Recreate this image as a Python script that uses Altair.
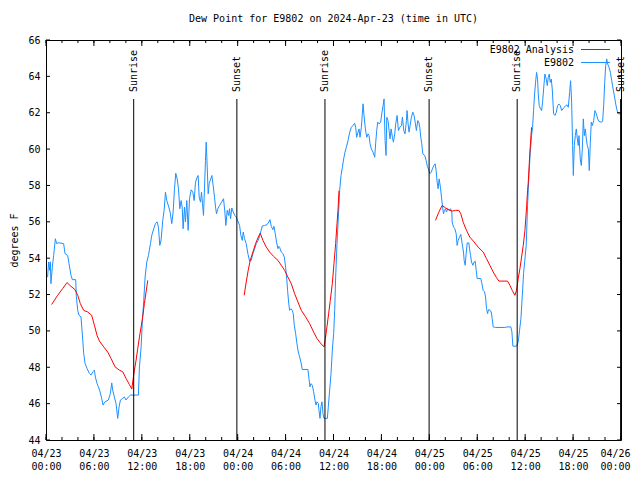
import altair as alt
import pandas as pd

FONT = "DejaVu Sans Mono"
TITLE = "Dew Point for E9802 on 2024-Apr-23 (time in UTC)"
START = pd.Timestamp("2024-04-23T00:00:00Z")

# E9802 observations: hours after 2024-04-23 00:00 UTC, dew point (F)
blue_hours = [
    0.20, 0.33, 0.46, 0.54, 0.62, 0.79, 0.96, 1.17, 1.33, 1.54, 2.21, 2.38, 2.71, 2.88, 3.13, 3.30,
    3.72, 3.80, 3.97, 4.13, 4.38, 4.51, 4.72, 4.89, 5.14, 5.43, 5.64, 5.85, 6.06, 6.18, 6.39, 6.56,
    6.77, 6.97, 7.14, 7.39, 7.81, 8.06, 8.23, 8.35, 8.56, 8.77, 8.98, 9.15, 9.32, 9.61, 9.81, 10.02,
    10.32, 10.57, 10.99, 11.57, 11.70, 11.91, 12.07, 12.24, 12.41, 12.62, 12.83, 13.08, 13.24, 13.49,
    13.70, 13.91, 14.08, 14.25, 14.41,
    14.62, 14.79, 14.96, 15.12, 15.38, 15.54, 15.75, 15.92, 16.09, 16.25, 16.42, 16.59, 16.75, 16.92,
    17.05, 17.17, 17.34, 17.46, 17.63, 17.80, 17.97, 18.18, 18.38, 18.55, 18.72, 18.93, 19.05, 19.18,
    19.35, 19.47, 19.60, 19.72, 19.85, 19.97, 20.06, 20.14, 20.31, 20.43, 20.56, 20.77, 20.93, 21.10,
    21.23, 21.35, 21.52, 21.73, 21.98, 22.23, 22.40, 22.52, 22.69, 22.86, 22.98, 23.11, 23.27, 23.44,
    23.65, 23.82, 24.03, 24.24, 24.40, 24.57, 24.70, 24.86, 25.07, 25.28, 25.49, 25.70, 25.91, 26.12,
    26.33, 26.58, 26.83, 27.08, 27.37, 27.66, 27.91, 28.04, 28.21, 28.41, 28.54, 28.71, 28.87, 29.04,
    29.17,
    29.25, 29.46, 29.67, 29.84, 30.00, 30.13, 30.25, 30.38, 30.50, 30.67, 30.84, 30.96, 31.09, 31.26,
    31.42, 31.59, 31.76, 31.92, 32.09, 32.80, 32.93, 33.05, 33.18, 33.35, 33.51, 33.68, 33.81, 33.93,
    34.10, 34.18, 34.31, 34.43, 34.56, 34.68, 34.81, 35.23, 35.35, 35.52, 35.69, 35.85, 36.02, 36.15,
    36.27,
    36.44, 36.61, 36.77, 36.94, 37.11, 37.27, 37.44, 37.61, 37.82, 38.03, 38.24, 38.44, 38.65, 38.78,
    38.90, 39.07, 39.20, 39.32, 39.49, 39.61, 39.70, 39.82, 39.99, 40.16, 40.33, 40.45, 40.58, 40.74,
    40.95, 41.16, 41.29, 41.41, 41.54, 41.70, 41.91, 42.04, 42.21, 42.33, 42.46, 42.58, 42.67, 42.83,
    42.96, 43.08, 43.21, 43.38, 43.50, 43.67, 43.79, 43.96, 44.13, 44.30, 44.51, 44.63, 44.80, 44.96,
    45.13, 45.21, 45.34, 45.46, 45.59, 45.76, 45.93, 46.09, 46.26, 46.38, 46.55, 46.68, 46.80, 46.93,
    47.05, 47.18, 47.43, 47.60, 47.76, 47.89, 48.06, 48.22, 48.39, 48.56, 48.73, 48.85, 48.98, 49.10,
    49.23, 49.39, 49.52, 49.64, 49.77, 49.90, 50.02, 50.15, 50.31, 50.48, 50.65, 50.82,
    50.86, 51.03, 51.19, 51.36, 51.48, 51.61, 51.78, 51.94, 52.11, 52.28, 52.36, 52.49, 52.61, 52.74,
    52.95, 53.03, 53.16, 53.28, 53.45, 53.61, 53.74, 53.87, 53.99, 54.45, 54.58, 54.74, 54.91, 55.04,
    55.16, 55.29, 55.41, 55.62, 55.75, 55.87, 56.00, 56.29, 57.46, 57.71, 58.21, 58.34, 58.46, 58.92,
    59.13, 59.30, 59.47, 59.63, 59.80,
    60.13, 60.30, 60.47, 60.64, 60.80, 60.93, 61.05, 61.18, 61.30, 61.43, 61.55, 61.64, 61.76, 61.93,
    62.06, 62.18, 62.31, 62.47, 62.64, 62.77, 62.89, 63.02, 63.14, 63.27, 63.39, 63.56, 63.73, 63.90,
    64.06, 64.23, 64.40, 64.57, 64.73, 64.90, 65.07, 65.23, 65.40, 65.57, 65.69, 65.82, 65.94, 66.03,
    66.15, 66.28, 66.40, 66.53, 66.65, 66.74, 66.90, 67.03, 67.16, 67.28, 67.41, 67.53, 67.66, 67.78,
    67.91, 68.03, 68.16, 68.28, 68.41, 68.58, 68.74, 68.91, 69.08, 69.25, 69.50, 69.70, 69.83, 69.96,
    70.08, 70.21, 70.33, 70.50, 70.67, 70.84, 71.01, 71.17, 71.34, 71.51, 71.67, 71.88,
]
blue_dewpt = [
    52.96, 53.79, 53.33, 53.80, 52.60, 53.50, 54.15, 55.07, 54.80, 54.85, 54.80, 54.25, 54.15, 53.70, 53.06, 52.82,
    52.82, 51.87, 51.13, 50.86, 50.77, 50.04, 48.76, 48.21, 47.93, 47.66, 47.57, 47.75, 47.84, 47.47, 47.11, 46.93,
    46.65, 46.29, 45.92, 46.10, 46.20, 46.56, 47.14, 46.75, 46.37, 46.00, 45.19, 45.82, 46.20, 46.29, 46.37, 46.20,
    46.37, 46.47, 46.47, 46.47, 48.02, 49.12, 50.59, 51.68, 52.96, 53.79, 54.15, 54.80, 55.25, 55.62,
    55.90, 56.00, 55.70, 54.70, 55.00,
    56.08, 56.63, 57.63, 57.17, 56.81, 56.54, 55.90, 56.54, 57.82, 58.67, 58.37, 57.82, 56.72, 57.17,
    56.81, 55.62, 56.81, 56.00, 57.17, 55.53, 57.27, 57.76, 57.63, 57.17, 58.18, 58.45, 58.55, 57.36,
    57.08, 57.63, 57.00, 56.35, 57.91, 59.37, 60.38, 59.55, 57.54, 58.09, 58.27, 58.55, 58.00, 57.36,
    56.81, 56.44, 56.72, 56.90, 57.08, 57.27, 56.54, 55.80, 56.63, 56.35, 56.72, 56.17, 56.76, 56.54,
    56.35, 56.26, 56.04, 55.80, 55.25, 54.98, 55.44, 55.07, 54.80, 54.25, 53.84, 53.88, 54.25, 54.52,
    54.80, 54.98, 55.35, 55.77, 55.80, 55.84, 55.99, 56.12, 55.75, 55.57, 55.75, 55.35, 54.89, 54.52,
    54.65,
    54.60, 54.34, 54.25, 54.06, 53.51, 52.96, 52.23, 51.59, 51.13, 51.22, 51.13, 50.95, 50.31, 49.85,
    49.30, 48.84, 48.57, 48.29, 47.88, 47.88, 47.38, 46.92, 47.10, 47.01, 46.65, 46.19, 45.92, 46.10,
    46.01, 45.64, 45.19, 45.83, 46.10, 45.46, 45.19, 45.19, 45.83, 46.74, 47.66, 48.94, 49.85, 51.13,
    52.96,
    54.80, 56.26, 57.72, 58.55, 59.00, 59.46, 59.83, 60.10, 60.47, 60.93, 61.20, 61.29, 61.42, 61.20,
    60.65, 60.93, 61.11, 60.65, 61.20, 61.94, 62.49, 61.85, 61.11, 60.65, 60.84, 60.75, 60.29, 60.01,
    59.83, 59.55, 60.38, 61.02, 61.48, 61.39, 61.48, 61.94, 62.39, 62.76, 60.47, 59.65, 61.75, 61.57,
    61.02, 60.56, 61.11, 60.65, 60.38, 60.84, 61.39, 61.85, 61.02, 61.20, 61.29, 61.76, 61.02, 60.84,
    61.57, 62.12, 61.39, 60.93, 61.29, 61.76, 62.03, 61.85, 61.39, 61.02, 61.57, 61.48, 61.20, 60.65,
    60.29, 59.74, 59.65, 59.37, 59.04, 58.91, 58.64, 58.72, 58.91, 59.10, 59.19, 58.82, 58.18, 57.82,
    58.36, 57.90, 57.36, 56.90, 56.44, 56.63, 56.72, 56.54, 56.72, 56.63, 56.72, 56.54,
    55.99, 55.71, 55.62, 55.35, 54.70, 54.98, 55.16, 55.31, 54.80, 54.34, 53.88, 53.61, 54.25, 54.84,
    54.84, 54.52, 54.16, 53.79, 53.61, 53.79, 53.84, 53.33, 52.88, 52.88, 52.60, 52.23, 52.15, 51.87,
    51.23, 50.95, 51.17, 51.13, 51.04, 50.68, 50.22, 50.19, 50.19, 50.22, 50.22, 49.95, 49.16, 49.16,
    49.40, 50.04, 50.68, 51.87, 53.15,
    54.70, 56.90, 58.55, 59.83, 60.74, 61.20, 62.12, 63.03, 63.67, 64.22, 63.85, 63.03, 62.39, 62.21,
    62.12, 62.58, 63.31, 64.13, 63.85, 63.49, 63.94, 64.13, 63.67, 63.85, 63.31, 61.94, 61.85, 62.03,
    62.39, 62.48, 62.39, 62.12, 62.21, 62.30, 62.39, 62.43, 62.30, 63.12, 63.76, 62.58, 60.20, 58.55,
    60.20, 60.74, 61.11, 60.56, 60.20, 60.74, 59.46, 59.10, 60.01, 61.66, 60.74, 61.11, 60.56, 60.20,
    60.01, 58.82, 60.38, 61.48, 61.30, 61.57, 62.12, 61.94, 61.66, 61.52, 61.48, 61.52, 62.39, 63.67,
    64.59, 64.96, 64.68, 64.50, 64.22, 63.76, 63.31, 62.94, 62.48, 62.12, 61.94, 61.94,
]

# E9802 Analysis: three separate pieces
red_hours_1 = [0.71, 1.46, 2.09, 2.63, 3.13, 3.63, 3.97, 4.30, 4.72, 5.22, 5.72, 6.06, 6.39, 6.68,
               7.23, 7.73, 8.15, 8.65, 9.19, 9.61, 10.03, 10.44, 10.74, 10.86, 11.07, 11.28, 11.49,
               11.70, 11.91, 12.11, 12.32, 12.53, 12.74]
red_dewpt_1 = [51.45, 51.96, 52.33, 52.66, 52.45, 52.27, 51.96, 51.50, 51.13, 51.04, 50.86, 50.31, 49.76, 49.45,
               49.12, 48.84, 48.48, 48.02, 47.84, 47.75, 47.38, 47.05, 46.80, 47.20, 47.84, 48.39, 49.03,
               49.67, 50.22, 50.77, 51.50, 52.14, 52.78]
red_hours_2 = [24.82, 25.07, 25.32, 25.57, 25.91, 26.24, 26.58, 26.83, 27.16, 27.58, 28.00, 28.50, 29.04,
               29.46, 29.88, 30.29, 30.71, 31.13, 31.55, 31.97, 32.51, 33.01, 33.51, 33.93, 34.35, 34.81,
               34.98, 35.18, 35.39, 35.60, 35.85, 36.06, 36.27, 36.44, 36.56, 36.69]
red_dewpt_2 = [51.96, 52.69, 53.33, 53.88, 54.34, 54.80, 55.16, 55.38, 54.98, 54.61, 54.34, 54.10, 53.88,
               53.61, 53.33, 52.96, 52.60, 52.05, 51.59, 51.13, 50.77, 50.40, 49.94, 49.58, 49.34, 49.12,
               49.58, 50.22, 50.95, 51.68, 52.60, 53.70, 54.80, 55.90, 56.63, 57.72]
red_hours_3 = [48.77, 49.19, 49.60, 50.02, 50.44, 50.86, 51.28, 51.69, 51.94, 52.24, 52.65, 53.07, 53.61,
               54.11, 54.74, 55.16, 55.58, 56.00, 56.41, 56.71, 57.79, 58.09, 58.38, 58.71, 58.92, 59.13,
               59.34, 59.55, 59.76, 59.97, 60.18, 60.30, 60.39, 60.59, 60.80]
red_dewpt_3 = [56.08, 56.53, 56.90, 56.77, 56.66, 56.59, 56.63, 56.63, 56.44, 55.98, 55.53, 55.16, 54.89,
               54.61, 54.34, 53.97, 53.61, 53.24, 52.93, 52.74, 52.74, 52.51, 52.23, 51.96, 52.23, 52.88,
               53.42, 54.06, 54.70, 55.53, 56.81, 57.72, 58.18, 59.83, 61.20]

sun_events = ["Sunrise", "Sunset", "Sunrise", "Sunset", "Sunrise", "Sunset"]
sun_hours = [10.98, 23.90, 34.93, 47.97, 59.00, 71.95]

series_names = ["E9802 Analysis", "E9802"]
series_colors = ["#ff0000", "#1e90ff"]

x_major_hours = list(range(0, 73, 6))
x_minor_hours = list(range(0, 73, 2))
y_ticks = list(range(44, 67, 2))


def to_iso(hours):
    return [(START + pd.Timedelta(hours=h)).strftime("%Y-%m-%dT%H:%M:%SZ") for h in hours]


def to_ms(hours):
    return [int((START + pd.Timedelta(hours=h)).timestamp() * 1000) for h in hours]


blue_df = pd.DataFrame({"time": to_iso(blue_hours), "dewpt": blue_dewpt, "series": "E9802"})
red_parts = []
for i, (hh, vv) in enumerate([(red_hours_1, red_dewpt_1), (red_hours_2, red_dewpt_2), (red_hours_3, red_dewpt_3)]):
    red_parts.append(pd.DataFrame({"time": to_iso(hh), "dewpt": vv, "series": "E9802 Analysis", "seg": i}))
red_df = pd.concat(red_parts, ignore_index=True)
sun_df = pd.DataFrame({"time": to_iso(sun_hours), "event": sun_events})
major_df = pd.DataFrame({"time": to_iso(x_major_hours)})
minor_df = pd.DataFrame({"time": to_iso(x_minor_hours)})
ytick_df = pd.DataFrame({"dewpt": y_ticks})

W, H = 575, 400
END_MS = to_ms([72])[0]

x_axis = alt.Axis(
    values=to_ms(x_major_hours),
    labelExpr="[utcFormat(datum.value, '%m/%d'), utcFormat(datum.value, '%H:%M')]",
    labelFlush=False, labelOverlap=False, labelPadding=8, labelLineHeight=13,
    labelOffset={"condition": {"test": f"datum.value >= {END_MS}", "value": -6}, "value": 0},
    title=None,
)
y_axis = alt.Axis(
    values=y_ticks, labelPadding=6, title="degrees F",
    titleX=-32, titleY=H / 2, titleAngle=270, titleBaseline="middle", titleAlign="center",
)
x_scale = alt.Scale(type="utc", domain=to_ms([0, 72]))
y_scale = alt.Scale(domain=[44, 66], nice=False, zero=False)

X = alt.X("time:T", scale=x_scale, axis=x_axis)
Y = alt.Y("dewpt:Q", scale=y_scale, axis=y_axis)
color_scale = alt.Scale(domain=series_names, range=series_colors)

blue_line = alt.Chart(blue_df).mark_line(strokeWidth=1).encode(
    x=X, y=Y, color=alt.Color("series:N", scale=color_scale, legend=None)
)
red_line = alt.Chart(red_df).mark_line(strokeWidth=1).encode(
    x=X, y=Y, color=alt.Color("series:N", scale=color_scale, legend=None), detail="seg:N"
)

sun_rules = alt.Chart(sun_df).mark_rule(color="black", strokeWidth=1).encode(
    x=X, y=alt.value(59), y2=alt.value(H)
)
sun_text = alt.Chart(sun_df).mark_text(
    angle=270, align="left", baseline="middle", font=FONT, fontSize=10, color="black"
).encode(x=X, y=alt.value(52), text="event:N")

tick_style = dict(color="black", strokeWidth=1)
bottom_major = alt.Chart(major_df).mark_rule(**tick_style).encode(x=X, y=alt.value(H), y2=alt.value(H - 6))
bottom_minor = alt.Chart(minor_df).mark_rule(**tick_style).encode(x=X, y=alt.value(H), y2=alt.value(H - 3))
top_major = alt.Chart(major_df).mark_rule(**tick_style).encode(x=X, y=alt.value(0), y2=alt.value(6))
top_minor = alt.Chart(minor_df).mark_rule(**tick_style).encode(x=X, y=alt.value(0), y2=alt.value(3))
left_ticks = alt.Chart(ytick_df).mark_rule(**tick_style).encode(y=Y, x=alt.value(0), x2=alt.value(4))
right_ticks = alt.Chart(ytick_df).mark_rule(**tick_style).encode(y=Y, x=alt.value(W), x2=alt.value(W - 4))

legend_layers = []
for i, (name, col) in enumerate(zip(series_names, series_colors)):
    ldf = pd.DataFrame({"series": [name]})
    legend_layers.append(
        alt.Chart(ldf).mark_text(align="right", baseline="middle", font=FONT, fontSize=10, color="black")
        .encode(x=alt.value(528), y=alt.value(9.5 + 13 * i), text="series:N")
    )
    legend_layers.append(
        alt.Chart(ldf).mark_rule(strokeWidth=1, color=col)
        .encode(x=alt.value(535), x2=alt.value(564), y=alt.value(9.5 + 13 * i))
    )

chart = alt.layer(
    blue_line, red_line, sun_rules, sun_text,
    bottom_major, bottom_minor, top_major, top_minor, left_ticks, right_ticks,
    *legend_layers,
).properties(
    width=W, height=H,
    autosize="none",
    padding={"left": 38, "top": 32, "right": 10, "bottom": 30},
    title=alt.TitleParams(TITLE, font=FONT, fontSize=10, fontWeight="normal", anchor="middle",
                          offset=11, color="black"),
).configure_view(
    stroke="black", strokeWidth=1
).configure_axis(
    grid=False, domain=False, ticks=False, tickSize=0,
    labelFont=FONT, labelFontSize=10, labelColor="black",
    titleFont=FONT, titleFontSize=10, titleFontWeight="normal", titleColor="black",
)

chart.save("out.html", embed_options={"renderer": "svg", "actions": False})
